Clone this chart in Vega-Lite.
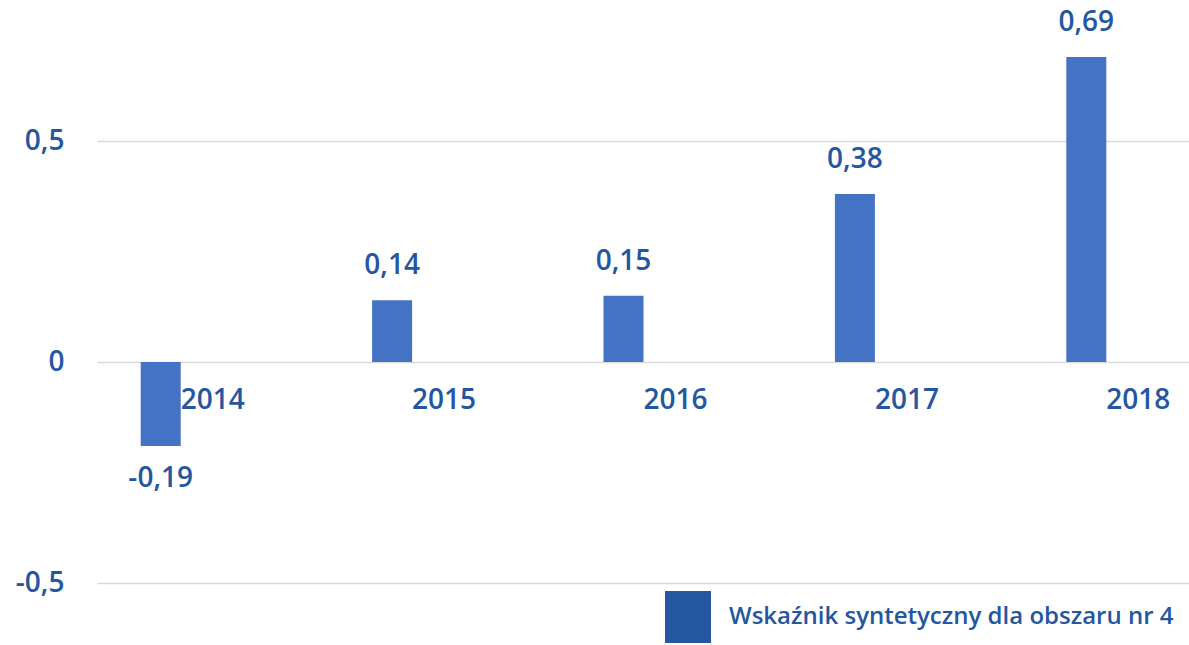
{
  "$schema": "https://vega.github.io/schema/vega-lite/v6.json",
  "width": 1093,
  "height": 645,
  "autosize": "none",
  "padding": {"left": 96, "top": 0, "right": 0, "bottom": 0},
  "background": "white",
  "config": {"view": {"stroke": null}, "font": "Open Sans"},
  "data": {
    "values": [
      {"year": "2014", "value": -0.19, "label": "-0,19", "series": "Wskaźnik syntetyczny dla obszaru nr 4"},
      {"year": "2015", "value": 0.14, "label": "0,14", "series": "Wskaźnik syntetyczny dla obszaru nr 4"},
      {"year": "2016", "value": 0.15, "label": "0,15", "series": "Wskaźnik syntetyczny dla obszaru nr 4"},
      {"year": "2017", "value": 0.38, "label": "0,38", "series": "Wskaźnik syntetyczny dla obszaru nr 4"},
      {"year": "2018", "value": 0.69, "label": "0,69", "series": "Wskaźnik syntetyczny dla obszaru nr 4"}
    ]
  },
  "encoding": {
    "x": {
      "field": "year",
      "type": "nominal",
      "scale": {"range": [1, 1158], "paddingInner": 0, "paddingOuter": 0},
      "axis": null
    },
    "y": {
      "field": "value",
      "type": "quantitative",
      "scale": {"domain": [-0.64, 0.819], "nice": false, "zero": false},
      "axis": {
        "values": [-0.5, 0, 0.5],
        "title": null,
        "domain": false,
        "ticks": false,
        "grid": true,
        "gridColor": "#d9d9d9",
        "gridWidth": 1.5,
        "labelPadding": 32,
        "labelFontSize": 28,
        "labelFontWeight": 600,
        "labelColor": "#2556a0",
        "labelFont": "Open Sans",
        "labelExpr": "(datum.value < 0 ? '-' : '') + replace(toString(abs(datum.value)), '.', ',')"
      }
    }
  },
  "layer": [
    {
      "mark": {"type": "bar", "width": 40, "xOffset": -52, "color": "#4472c4"},
      "encoding": {"y2": {"datum": 0}}
    },
    {
      "transform": [{"filter": "datum.value >= 0"}],
      "mark": {"type": "text", "xOffset": -52, "dy": -34, "baseline": "middle", "align": "center", "fontSize": 28, "fontWeight": 600, "color": "#2556a0"},
      "encoding": {"text": {"field": "label"}}
    },
    {
      "transform": [{"filter": "datum.value < 0"}],
      "mark": {"type": "text", "xOffset": -52, "dy": 33, "baseline": "middle", "align": "center", "fontSize": 28, "fontWeight": 600, "color": "#2556a0"},
      "encoding": {"text": {"field": "label"}}
    },
    {
      "mark": {"type": "text", "dy": 39, "baseline": "middle", "align": "center", "fontSize": 28, "fontWeight": 600},
      "encoding": {
        "y": {"datum": 0},
        "text": {"field": "year"},
        "color": {
          "field": "series",
          "type": "nominal",
          "scale": {"range": ["#2556a0"]},
          "legend": {
            "title": null,
            "orient": "none",
            "legendX": 566,
            "legendY": 591,
            "padding": 0,
            "symbolType": "M-0.885,-1H0.885V1H-0.885Z",
            "symbolSize": 2704,
            "symbolStrokeWidth": 0,
            "symbolOpacity": 1,
            "labelOffset": 15,
            "labelFontSize": 24,
            "labelFontWeight": 600,
            "labelColor": "#2556a0",
            "labelFont": "Open Sans",
            "labelLimit": 600
          }
        }
      }
    }
  ]
}
